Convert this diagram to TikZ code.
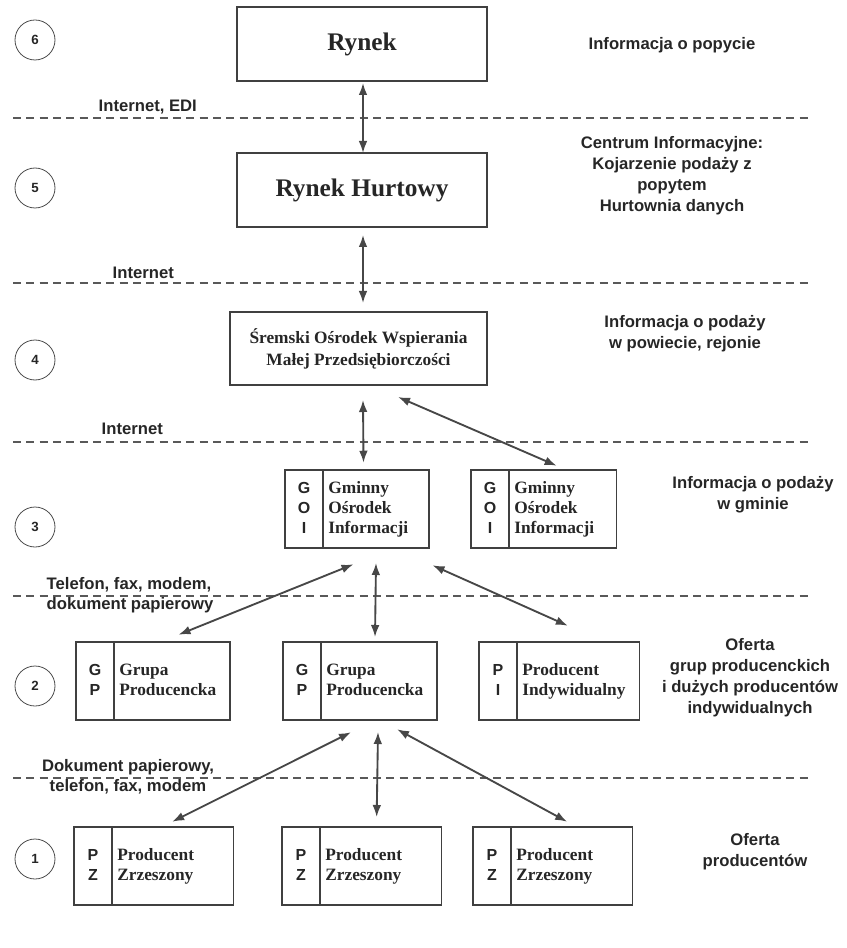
\documentclass[tikz,border=0pt]{standalone}
\usepackage{fontspec}
\setmainfont{Liberation Serif}
\setsansfont{Liberation Sans}
\usetikzlibrary{arrows.meta,calc,fit,positioning}
\tikzset{
  bigbox/.style={draw=black!75, line width=0.9pt, outer sep=0pt, align=center, text=black!85},
  letters/.style={draw=black!75, line width=0.9pt, outer sep=0pt, inner sep=0pt,
    text width=28.5pt, minimum height=58.5pt, align=center, text=black!85,
    font=\sffamily\bfseries\fontsize{12}{15}\selectfont,
    execute at begin node=\strut, execute at end node=\strut},
  boxtext/.style={draw=black!75, line width=0.9pt, outer sep=0pt, inner xsep=4pt, inner ysep=0pt,
    minimum height=58.5pt, align=left, text=black!85,
    font=\bfseries\fontsize{13}{15}\selectfont,
    execute at begin node=\strut, execute at end node=\strut},
  side/.style={align=center, text=black!85, font=\sffamily\bfseries\fontsize{12.5}{15.75}\selectfont},
  medium/.style={align=left, anchor=west, text=black!85, font=\sffamily\bfseries\fontsize{12.5}{15}\selectfont},
  levelmark/.style={circle, draw=black!70, line width=0.6pt, minimum size=30pt, inner sep=0pt,
    text=black!85, font=\sffamily\bfseries\fontsize{10}{12}\selectfont},
  sep/.style={dash pattern=on 6pt off 4pt, line width=0.9pt, black!65},
  link/.style={{Latex[length=9pt,width=6.5pt]}-{Latex[length=9pt,width=6.5pt]}, line width=1.4pt, black!72}
}
\def\splitbox(#1)(#2,#3)[#4]#5#6{%
  \node[letters, anchor=west] (#1l) at (#2,#3) {#5};
  \node[boxtext, text width=#4, right=0pt of #1l] (#1) {#6};
  \node[fit=(#1l)(#1), inner sep=0pt] (#1box) {};}

\begin{document}
\begin{tikzpicture}[x=0.75pt, y=-0.75pt]
  \useasboundingbox (0,0) rectangle (846,948);

  % levels
  \foreach \n/\y in {6/40, 5/188, 4/360, 3/527, 2/686, 1/859}
    \node[levelmark] (lev\n) at (35,\y) {\n};

  % separators
  \foreach \y in {118, 283, 442, 596, 778}
    \draw[sep] (13,\y) -- (808,\y);

  % boxes
  \node[bigbox, minimum width=187.5pt, minimum height=55.5pt,
        font=\bfseries\fontsize{19}{22}\selectfont] (rynek) at (362,44) {Rynek};
  \node[bigbox, minimum width=187.5pt, minimum height=55.5pt,
        font=\bfseries\fontsize{19}{22}\selectfont] (hurt) at (362,190) {Rynek Hurtowy};
  \node[bigbox, minimum width=192.75pt, minimum height=54.75pt,
        font=\bfseries\fontsize{13}{16.5}\selectfont] (srem) at (358.5,348.5)
        {Śremski Ośrodek Wspierania\\Małej Przedsiębiorczości};

  \splitbox(goi1)(285,509)[71.5pt]{G\\O\\I}{Gminny\\Ośrodek\\Informacji}
  \splitbox(goi2)(471,509)[72.5pt]{G\\O\\I}{Gminny\\Ośrodek\\Informacji}

  \splitbox(gp1)(76,681)[79pt]{G\\P}{Grupa\\Producencka}
  \splitbox(gp2)(283,681)[79pt]{G\\P}{Grupa\\Producencka}
  \splitbox(pi)(479,681)[84pt]{P\\I}{Producent\\Indywidualny}

  \splitbox(pz1)(74,866)[83pt]{P\\Z}{Producent\\Zrzeszony}
  \splitbox(pz2)(282,866)[83pt]{P\\Z}{Producent\\Zrzeszony}
  \splitbox(pz3)(473,866)[83pt]{P\\Z}{Producent\\Zrzeszony}

  % links
  \draw[link] ($(rynek.south)+(1,2)$) -- ($(hurt.north)+(1,0)$);
  \draw[link] ($(hurt.south)+(1,8)$) -- ($(srem.north)+(4.5,-9)$);
  \draw[link] ($(srem.south)+(4.5,15)$) -- ($(goi1box.north)+(6.5,-7)$);
  \draw[link] ($(srem.south)+(39.5,12)$) -- ($(goi2box.north)+(13,-4)$);
  \draw[link] ($(goi1box.south)+(-3.5,16)$) -- ($(gp1box.north)+(25.5,-7)$);
  \draw[link] ($(goi1.south)+(0,15)$) -- ($(gp2.north)+(-4,-5)$);
  \draw[link] ($(goi1box.south)+(75.5,17)$) -- ($(pibox.north)+(8.5,-16)$);
  \draw[link] ($(gp2box.south)+(-9,12)$) -- ($(pz1box.north)+(18.5,-5)$);
  \draw[link] ($(gp2.south)+(-1,12)$) -- ($(pz2.north)+(-4,-10)$);
  \draw[link] ($(gp2box.south)+(37,9)$) -- ($(pz3box.north)+(14.5,-5)$);

  % media
  \node[medium] (m6) at (94,107) {Internet, EDI};
  \node[medium] (m5) at (108,273) {Internet};
  \node[medium] (m4) at (97,429) {Internet};
  \node[medium] (m3) at (42,595) {Telefon, fax, modem,\\dokument papierowy};
  \node[medium, anchor=center, align=center] (m2) at (128,777) {Dokument papierowy,\\telefon, fax, modem};

  % descriptions
  \node[side] (d6) at (672,45) {Informacja o popycie};
  \node[side] (d5) at (672,176) {Centrum Informacyjne:\\Kojarzenie podaży z\\popytem\\Hurtownia danych};
  \node[side] (d4) at (685,334) {Informacja o podaży\\w powiecie, rejonie};
  \node[side] (d3) at (753,495) {Informacja o podaży\\w gminie};
  \node[side] (d2) at (750,678) {Oferta\\grup producenckich\\i dużych producentów\\indywidualnych};
  \node[side] (d1) at (755,852) {Oferta\\producentów};
\end{tikzpicture}
\end{document}
